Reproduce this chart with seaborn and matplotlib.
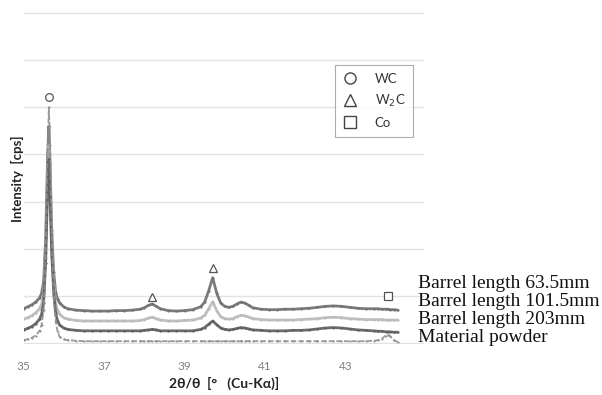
import numpy as np
import pandas as pd
import matplotlib
matplotlib.use('Agg')
import matplotlib.pyplot as plt
from matplotlib.lines import Line2D
import seaborn as sns

# 2theta grid shared by all traces (finer around the peaks)
two_theta = [35.0, 35.1, 35.2, 35.3, 35.4, 35.45, 35.5, 35.55, 35.6, 35.63,
             35.66, 35.7, 35.75, 35.8, 35.85, 35.9, 36.0, 36.1, 36.3, 36.5,
             36.7, 36.9, 37.1, 37.3, 37.5, 37.7, 37.9, 38.0, 38.1, 38.2,
             38.3, 38.4, 38.6, 38.8, 39.0, 39.2, 39.4, 39.5, 39.6, 39.7,
             39.8, 39.9, 40.0, 40.1, 40.2, 40.3, 40.4, 40.5, 40.6, 40.7,
             40.9, 41.1, 41.3, 41.5, 41.7, 41.9, 42.1, 42.3, 42.5, 42.7,
             42.9, 43.1, 43.3, 43.5, 43.7, 43.8, 43.9, 44.0, 44.05, 44.1,
             44.2, 44.3]

# intensities (arbitrary units, one grid step = 1)
barrel_63 = [0.72, 0.76, 0.80, 0.86, 0.95, 1.05, 1.30, 2.20, 4.00, 4.60,
             3.80, 2.40, 1.50, 1.05, 0.92, 0.84, 0.76, 0.72, 0.69, 0.68,
             0.67, 0.67, 0.67, 0.68, 0.68, 0.69, 0.71, 0.74, 0.79, 0.82,
             0.77, 0.72, 0.68, 0.67, 0.68, 0.70, 0.76, 0.86, 1.10, 1.38,
             1.05, 0.84, 0.77, 0.75, 0.77, 0.82, 0.86, 0.84, 0.79, 0.74,
             0.71, 0.70, 0.70, 0.71, 0.71, 0.72, 0.73, 0.75, 0.77, 0.78,
             0.77, 0.75, 0.73, 0.72, 0.72, 0.72, 0.71, 0.71, 0.71, 0.70,
             0.70, 0.69]
barrel_101 = [0.50, 0.53, 0.57, 0.63, 0.72, 0.82, 1.05, 1.90, 3.60, 4.20,
              3.40, 2.10, 1.25, 0.82, 0.68, 0.60, 0.53, 0.50, 0.47, 0.46,
              0.46, 0.46, 0.46, 0.46, 0.46, 0.46, 0.47, 0.49, 0.52, 0.54,
              0.51, 0.48, 0.46, 0.46, 0.47, 0.48, 0.52, 0.58, 0.72, 0.87,
              0.68, 0.55, 0.51, 0.50, 0.51, 0.55, 0.58, 0.57, 0.54, 0.51,
              0.49, 0.48, 0.48, 0.48, 0.48, 0.49, 0.50, 0.51, 0.53, 0.54,
              0.53, 0.51, 0.50, 0.49, 0.49, 0.49, 0.49, 0.48, 0.48, 0.48,
              0.48, 0.48]
barrel_203 = [0.27, 0.30, 0.34, 0.40, 0.50, 0.60, 0.85, 1.70, 3.30, 3.90,
              3.10, 1.90, 1.05, 0.62, 0.45, 0.37, 0.31, 0.28, 0.26, 0.25,
              0.25, 0.25, 0.25, 0.25, 0.25, 0.25, 0.25, 0.26, 0.27, 0.28,
              0.27, 0.25, 0.25, 0.25, 0.25, 0.25, 0.28, 0.32, 0.39, 0.46,
              0.38, 0.31, 0.28, 0.27, 0.28, 0.30, 0.32, 0.31, 0.29, 0.27,
              0.26, 0.25, 0.25, 0.25, 0.26, 0.26, 0.27, 0.29, 0.31, 0.32,
              0.31, 0.29, 0.27, 0.26, 0.25, 0.24, 0.24, 0.23, 0.23, 0.23,
              0.22, 0.22]
powder = [0.05, 0.07, 0.10, 0.15, 0.25, 0.38, 0.70, 1.80, 4.00, 5.00,
          4.20, 2.30, 1.00, 0.45, 0.22, 0.12, 0.07, 0.05, 0.04, 0.03,
          0.03, 0.03, 0.03, 0.03, 0.03, 0.03, 0.03, 0.03, 0.03, 0.03,
          0.03, 0.03, 0.03, 0.03, 0.03, 0.03, 0.03, 0.03, 0.03, 0.03,
          0.03, 0.03, 0.03, 0.03, 0.03, 0.03, 0.03, 0.03, 0.03, 0.03,
          0.03, 0.03, 0.03, 0.03, 0.03, 0.03, 0.03, 0.03, 0.03, 0.03,
          0.03, 0.03, 0.03, 0.03, 0.04, 0.05, 0.08, 0.15, 0.17, 0.14,
          0.05, 0.01]

series_names = ['Barrel length 63.5mm', 'Barrel length 101.5mm',
                'Barrel length 203mm', 'Material powder']
series_colors = ['#6c6c6c', '#b8b8b8', '#5a5a5a', '#8e8e8e']

# phase markers above the peaks
peak_phase = ['WC', 'W2C', 'W2C', 'Co']
peak_pos = [35.63, 38.2, 39.7, 44.05]
peak_height = [5.22, 0.98, 1.59, 1.0]
phase_marker = {'WC': 'o', 'W2C': '^', 'Co': 's'}
phase_label = {'WC': 'WC', 'W2C': 'W$_{2}$C', 'Co': 'Co'}

x_ticks = [35, 37, 39, 41, 43]

df = pd.DataFrame({'two_theta': two_theta, series_names[0]: barrel_63,
                   series_names[1]: barrel_101, series_names[2]: barrel_203,
                   series_names[3]: powder})
long_df = df.melt(id_vars='two_theta', var_name='sample', value_name='intensity')

sns.set_style('white')
plt.rcParams['font.family'] = ['Lato', 'DejaVu Sans']

fig = plt.figure(figsize=(6.02, 3.95), dpi=100)
ax = fig.add_axes([23.5 / 602, 51 / 395, 400.5 / 602, 332 / 395])

for name, col in zip(series_names, series_colors):
    sub = long_df[long_df['sample'] == name]
    if name == 'Material powder':
        ls, lw = (0, (3, 1.2)), 1.3
    else:
        ls, lw = '-', 2.0
    sns.lineplot(data=sub, x='two_theta', y='intensity', ax=ax, color=col,
                 linewidth=lw, linestyle=ls, marker='o', markersize=1.6,
                 markeredgewidth=0, alpha=0.9, legend=False, zorder=3)

for ph, px, py in zip(peak_phase, peak_pos, peak_height):
    ax.plot(px, py, marker=phase_marker[ph], markersize=5.5, markerfacecolor='white',
            markeredgecolor='#555555', markeredgewidth=0.9, linestyle='none', zorder=4)

ax.set_xlim(35, 44.95)
ax.set_ylim(-0.03, 7.03)
ax.set_yticks(range(8))
ax.set_yticklabels([])
ax.set_xticks(x_ticks)
ax.set_xticklabels([str(t) for t in x_ticks])
ax.tick_params(axis='x', length=0, pad=12, labelsize=8.5, labelcolor='#808080')
ax.tick_params(axis='y', length=0)
ax.grid(axis='y', color='#e2e2e2', linewidth=1.0)
ax.grid(axis='x', visible=False)
for sp in ax.spines.values():
    sp.set_visible(False)
ax.set_xlabel('')
ax.set_ylabel('')

fig.text(17 / 602, 1 - 179 / 395, 'Intensity  [cps]', rotation=90, ha='center',
         va='center', fontsize=9.5, fontweight='bold', color='#222222')
fig.text(224 / 602, 1 - 383 / 395, '2θ/θ  [°   (Cu-Kα)]', ha='center', va='center',
         fontsize=10, fontweight='bold', color='#222222')

handles = [Line2D([0], [0], marker=phase_marker[p], linestyle='none', markersize=8,
                  markerfacecolor='white', markeredgecolor='#444444', markeredgewidth=1.0)
           for p in ['WC', 'W2C', 'Co']]
leg = fig.legend(handles, [phase_label[p] for p in ['WC', 'W2C', 'Co']],
                 loc='upper left', bbox_to_anchor=(335 / 602, 1 - 65 / 395),
                 frameon=True, fancybox=False, fontsize=9.5, labelspacing=0.6,
                 handlelength=1.0, handletextpad=1.4, borderpad=0.6, borderaxespad=0)
leg.get_frame().set_edgecolor('#999999')
leg.get_frame().set_linewidth(0.8)
for t in leg.get_texts():
    t.set_color('#333333')

label_y = [283, 301, 319, 338]
for name, yy in zip(series_names, label_y):
    fig.text(418 / 602, 1 - yy / 395, name, ha='left', va='center',
             fontsize=14, family='Liberation Serif', color='#111111')

fig.savefig('out.png', dpi=100)
